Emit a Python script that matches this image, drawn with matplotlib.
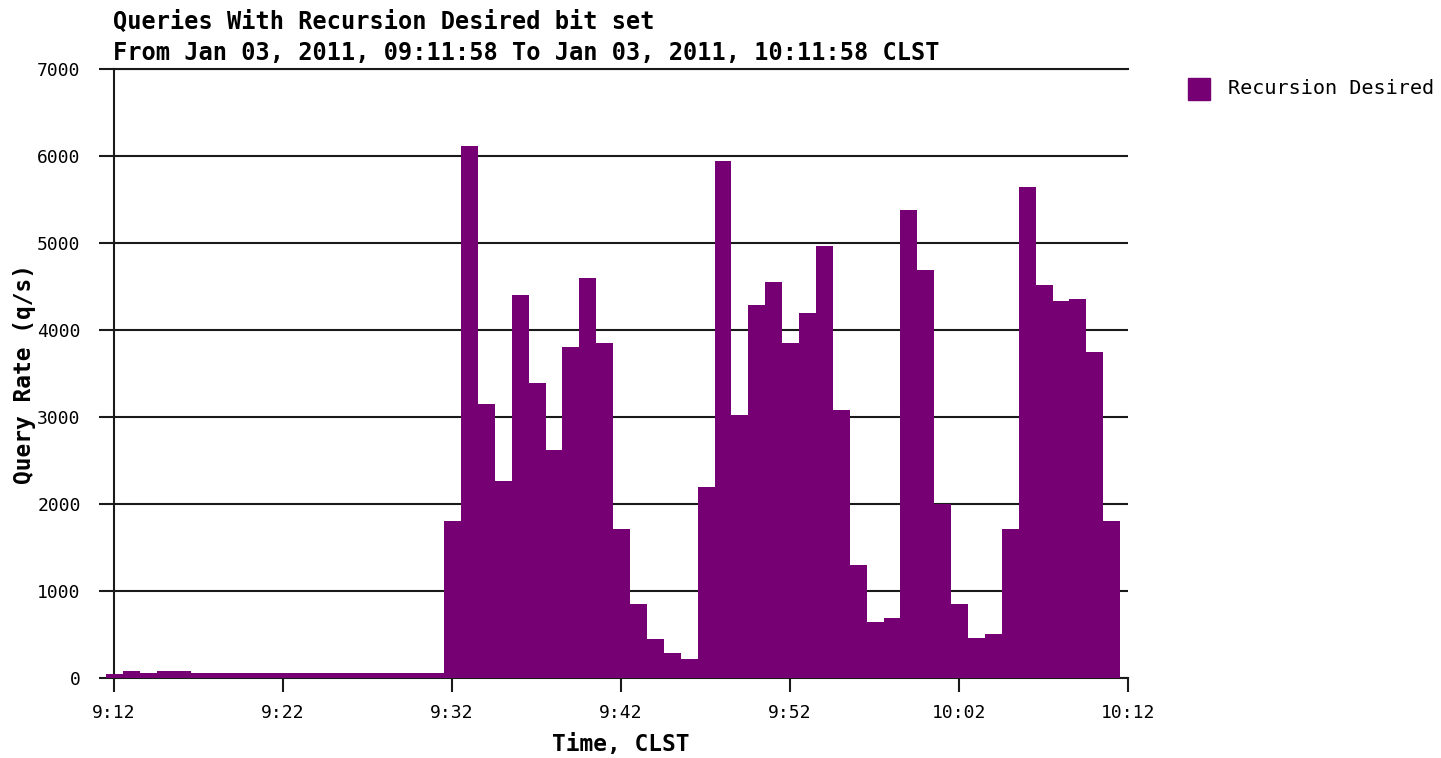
import numpy as np
import matplotlib
matplotlib.use("Agg")
import matplotlib.pyplot as plt
from matplotlib.patches import Rectangle

# one-minute bins starting 09:11:32, values in queries/s
rates = [50, 80, 55, 85, 85,
         55, 55, 55, 55, 55, 55, 55, 55, 55, 55, 55, 55, 55, 55, 55,
         1805, 6120, 3150, 2270, 4400, 3390, 2620, 3800, 4600, 3850,
         1710, 850, 450, 290, 220, 2200, 5945, 3020, 4290, 4547,
         3850, 4200, 4960, 3085, 1297, 644, 690, 5385, 4686, 2004,
         850, 458, 502, 1715, 5639, 4522, 4333, 4357, 3751, 1799]
first_bin_offset = -28 / 60.0   # minutes relative to 9:12
tick_minutes = [0, 10, 20, 30, 40, 50, 60]
tick_labels = ["9:12", "9:22", "9:32", "9:42", "9:52", "10:02", "10:12"]
y_ticks = [0, 1000, 2000, 3000, 4000, 5000, 6000, 7000]

purple = "#760073"
ink = "#1a1a1a"
mono = "DejaVu Sans Mono"

fig = plt.figure(figsize=(14.41, 7.58), dpi=100)
ax = fig.add_axes([114 / 1441, 80 / 758, 1014 / 1441, 609 / 758])

lefts = first_bin_offset + np.arange(len(rates))
ax.bar(lefts, rates, width=1.0, align="edge", color=purple,
       linewidth=0, clip_on=False, zorder=3, label="Recursion Desired")

ax.set_xlim(0, 60)
ax.set_ylim(0, 7000)
ax.set_xticks(tick_minutes)
ax.set_xticklabels(tick_labels)
ax.set_yticks(y_ticks)

ax.set_axisbelow(True)
ax.yaxis.grid(True, color=ink, linewidth=1.5)
ax.spines["right"].set_visible(False)
for s in ["left", "bottom", "top"]:
    ax.spines[s].set_color(ink)
    ax.spines[s].set_linewidth(1.5)

ax.tick_params(axis="y", direction="out", length=11, width=1.5, color=ink,
               pad=13, labelsize=13)
ax.tick_params(axis="x", direction="out", length=10, width=1.5, color=ink,
               pad=9, labelsize=13)
for lab in ax.get_xticklabels() + ax.get_yticklabels():
    lab.set_fontfamily(mono)

fig.text(113 / 1441, 1 - 29 / 758, "Queries With Recursion Desired bit set",
         family=mono, fontsize=17, fontweight="bold", va="baseline")
fig.text(113 / 1441, 1 - 60 / 758,
         "From Jan 03, 2011, 09:11:58 To Jan 03, 2011, 10:11:58 CLST",
         family=mono, fontsize=17, fontweight="bold", va="baseline")

ax.set_xlabel("Time, CLST", family=mono, fontsize=16.5, fontweight="bold",
              labelpad=8)
ax.set_ylabel("Query Rate (q/s)", family=mono, fontsize=16.5,
              fontweight="bold", labelpad=1)

# legend box at the right
fig.patches.append(Rectangle((1188 / 1441, 1 - 100 / 758), 22 / 1441, 22 / 758,
                             transform=fig.transFigure, color=purple))
fig.text(1228 / 1441, 1 - 89 / 758, "Recursion Desired", family=mono,
         fontsize=14.5, va="center")

fig.savefig("out.png", dpi=100)
